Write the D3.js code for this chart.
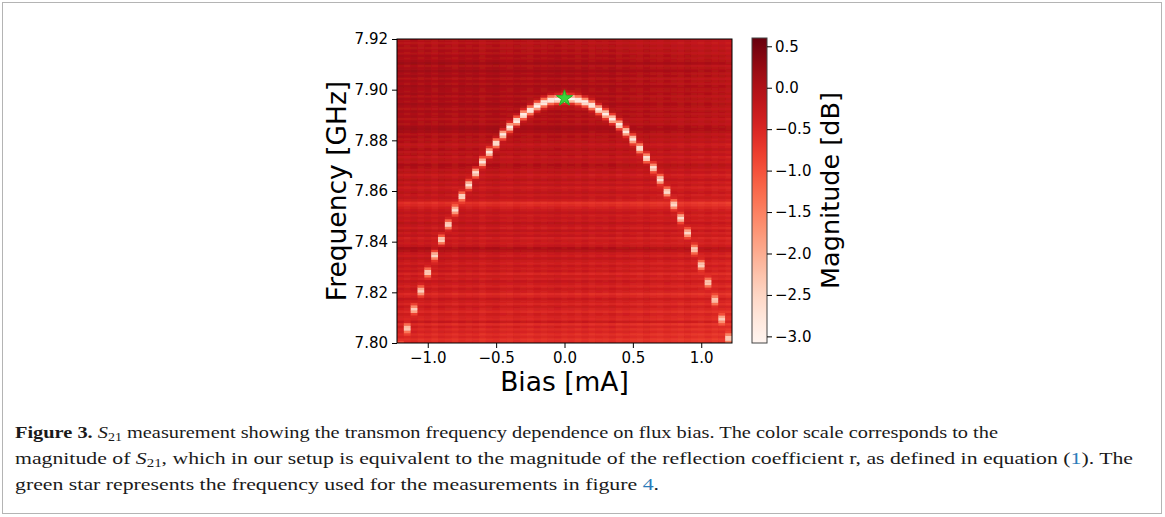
<!DOCTYPE html>
<html>
<head>
<meta charset="utf-8">
<script src="https://cdn.jsdelivr.net/npm/d3@7"></script>
<style>
  body { margin: 0; background: #fff; }
  svg { display: block; }
</style>
</head>
<body>
<svg id="fig" width="1165" height="517"></svg>
<script>
// Flux-bias sweep (mA), one column each
const biasValues = [-1.20, -1.15, -1.10, -1.05, -1.00, -0.95, -0.90, -0.85, -0.80, -0.75,
  -0.70, -0.65, -0.60, -0.55, -0.50, -0.45, -0.40, -0.35, -0.30, -0.25,
  -0.20, -0.15, -0.10, -0.05, 0.00, 0.05, 0.10, 0.15, 0.20, 0.25,
  0.30, 0.35, 0.40, 0.45, 0.50, 0.55, 0.60, 0.65, 0.70, 0.75,
  0.80, 0.85, 0.90, 0.95, 1.00, 1.05, 1.10, 1.15, 1.20];

// Transmon resonance frequency (GHz) found at each bias
const resonanceFreq = [7.7985, 7.8059, 7.8134, 7.8207, 7.8280, 7.8347, 7.8409, 7.8469, 7.8526, 7.8580,
  7.8626, 7.8673, 7.8716, 7.8754, 7.8790, 7.8824, 7.8853, 7.8878, 7.8902, 7.8920,
  7.8937, 7.8950, 7.8960, 7.8963, 7.8966, 7.8965, 7.8960, 7.8952, 7.8940, 7.8923,
  7.8906, 7.8886, 7.8863, 7.8836, 7.8806, 7.8770, 7.8732, 7.8693, 7.8647, 7.8598,
  7.8548, 7.8494, 7.8436, 7.8371, 7.8309, 7.8240, 7.8171, 7.8096, 7.8020];

// |S21| (dB) at the resonance dip for each bias
const dipDepth = [-2.20, -2.40, -2.40, -2.45, -2.50, -2.50, -2.55, -2.60, -2.60, -2.65,
  -2.70, -2.70, -2.75, -2.80, -2.80, -2.85, -2.90, -2.95, -3.00, -3.00,
  -3.05, -3.05, -3.05, -3.05, -3.05, -3.05, -3.05, -3.05, -3.00, -3.00,
  -2.95, -2.90, -2.90, -2.85, -2.80, -2.80, -2.75, -2.70, -2.70, -2.65,
  -2.60, -2.60, -2.55, -2.50, -2.50, -2.45, -2.40, -2.40, -2.50];

// Off-resonance |S21| (dB) per frequency row, 7.800 GHz upward in 1 MHz steps
const freqStart = 7.800, freqStep = 0.001;
const rowLevel = [
  -0.58, -0.66, -0.50, -0.62, -0.45, -0.57, -0.40, -0.60, -0.26, -0.52,
  -0.46, -0.36, -0.55, -0.42, -0.30, -0.50, -0.38, -0.24, -0.45, -0.58,
  -0.37, -0.27, -0.46, -0.34, -0.22, -0.42, -0.31, -0.50, -0.26, -0.38,
  -0.24, -0.41, -0.30, -0.18, -0.37, -0.28, -0.06, 0.02, -0.22, -0.35,
  -0.27, -0.41, -0.20, -0.32, -0.15, -0.37, -0.25, -0.12, -0.30, -0.22,
  -0.34, -0.18, -0.28, -0.40, -0.55, -0.64, -0.33, -0.20, -0.30, -0.14,
  -0.25, -0.36, -0.16, -0.28, -0.09, -0.23, -0.33, -0.12, -0.20, -0.05,
  0.02, -0.19, -0.12, -0.26, -0.08, -0.18, -0.03, -0.15, -0.24, -0.05,
  -0.12, 0.00, -0.10, 0.06, 0.12, 0.09, -0.06, 0.00, -0.10, 0.03,
  -0.04, 0.06, -0.08, 0.02, 0.10, -0.03, 0.05, -0.07, 0.08, -0.01,
  0.03, 0.11, -0.04, 0.06, -0.08, 0.09, -0.01, 0.13, 0.04, -0.05,
  0.15, 0.05, -0.03, 0.05, -0.09, 0.01, -0.10, -0.03, -0.14, -0.06];

// Per-bias offset of the background level (dB)
const colLevel = [0.06, 0.01, 0.07, -0.01, 0.05, -0.03, 0.06, 0.02, -0.04, 0.05,
  0.00, 0.04, -0.05, 0.02, 0.05, -0.02, -0.04, 0.03, -0.01, -0.05,
  0.02, -0.03, 0.01, 0.04, -0.03, 0.01, -0.05, 0.02, -0.06, -0.01,
  -0.04, 0.02, -0.07, -0.02, -0.05, -0.09, -0.02, -0.07, -0.10, -0.04,
  -0.08, -0.12, -0.05, -0.10, -0.13, -0.07, -0.14, -0.10, -0.16];

// Operating point marked with the star
const markerBias = 0.0, markerFreq = 7.8966;

const xTicks = [-1.0, -0.5, 0.0, 0.5, 1.0];
const yTicks = [7.80, 7.82, 7.84, 7.86, 7.88, 7.90, 7.92];
const cbarTicks = [-3.0, -2.5, -2.0, -1.5, -1.0, -0.5, 0.0, 0.5];
const colorMin = -3.08, colorMax = 0.6;

const svg = d3.select("#fig");
const FONT = "'DejaVu Sans', sans-serif";

// outer figure frame
svg.append("rect").attr("x", 2.5).attr("y", 2.5).attr("width", 1159).attr("height", 511)
  .attr("fill", "#fff").attr("stroke", "#b4b4b4").attr("stroke-width", 1);

const plot = { left: 397, right: 732, top: 39, bottom: 343 };
const halfStep = (biasValues[1] - biasValues[0]) / 2;
const x = d3.scaleLinear()
  .domain([biasValues[0] - halfStep, biasValues[biasValues.length - 1] + halfStep])
  .range([plot.left, plot.right]);
const y = d3.scaleLinear().domain([7.80, 7.92]).range([plot.bottom, plot.top]);
const color = d3.scaleSequential(d3.interpolateReds).domain([colorMin, colorMax]);

// build the measured magnitude grid; each dip spreads over neighbouring rows
const dipWidthRows = 1.15;
const cells = [];
biasValues.forEach((b, c) => {
  const pos = (resonanceFreq[c] - freqStart) / freqStep;
  rowLevel.forEach((lvl, r) => {
    const bg = lvl + colLevel[c];
    const d = Math.abs(r + 0.5 - pos);
    const w = Math.exp(-(d * d) / (2 * dipWidthRows * dipWidthRows));
    cells.push({
      bias: b,
      f0: freqStart + r * freqStep,
      v: bg + w * (dipDepth[c] - bg)
    });
  });
});

const defs = svg.append("defs");
defs.append("clipPath").attr("id", "plotClip")
  .append("rect").attr("x", plot.left).attr("y", plot.top)
  .attr("width", plot.right - plot.left).attr("height", plot.bottom - plot.top);
const soft = defs.append("filter").attr("id", "soft")
  .attr("x", "-5%").attr("y", "-5%").attr("width", "110%").attr("height", "110%");
soft.append("feGaussianBlur").attr("stdDeviation", "0.5 0.5");

const heatOuter = svg.append("g").attr("clip-path", "url(#plotClip)");
heatOuter.append("rect").attr("x", plot.left).attr("y", plot.top)
  .attr("width", plot.right - plot.left).attr("height", plot.bottom - plot.top)
  .attr("fill", color(-0.25));
const heat = heatOuter.append("g").attr("filter", "url(#soft)");
heat.selectAll("rect.cell").data(cells).join("rect")
  .attr("class", "cell")
  .attr("x", d => x(d.bias - halfStep))
  .attr("width", d => x(d.bias + halfStep) - x(d.bias - halfStep) + 0.4)
  .attr("y", d => y(d.f0 + freqStep))
  .attr("height", d => y(d.f0) - y(d.f0 + freqStep) + 0.4)
  .attr("fill", d => color(d.v));

// operating-point star
svg.append("path")
  .attr("d", d3.symbol().type(d3.symbolStar).size(80)())
  .attr("transform", `translate(${x(markerBias)},${y(markerFreq)})`)
  .attr("fill", "#3ad43a").attr("stroke", "#22b022").attr("stroke-width", 1);

// frame
svg.append("rect").attr("x", plot.left).attr("y", plot.top)
  .attr("width", plot.right - plot.left).attr("height", plot.bottom - plot.top)
  .attr("fill", "none").attr("stroke", "#000").attr("stroke-width", 1);

// axes
const xAxis = svg.append("g").attr("transform", `translate(0,${plot.bottom})`)
  .call(d3.axisBottom(x).tickValues(xTicks).tickFormat(d3.format(".1f")).tickSize(5).tickPadding(4));
const yAxis = svg.append("g").attr("transform", `translate(${plot.left},0)`)
  .call(d3.axisLeft(y).tickValues(yTicks).tickFormat(d3.format(".2f")).tickSize(5).tickPadding(4));
[xAxis, yAxis].forEach(a => {
  a.select(".domain").remove();
  a.selectAll("text").attr("font-family", FONT).attr("font-size", 15).attr("fill", "#000");
  a.selectAll("line").attr("stroke", "#000");
});

svg.append("text").attr("x", (plot.left + plot.right) / 2).attr("y", 391)
  .attr("text-anchor", "middle").attr("font-family", FONT).attr("font-size", 26.5)
  .text("Bias [mA]");
svg.append("text").attr("transform", `translate(346,${(plot.top + plot.bottom) / 2}) rotate(-90)`)
  .attr("text-anchor", "middle").attr("font-family", FONT).attr("font-size", 26.5)
  .text("Frequency [GHz]");

// colour bar
const cb = { left: 752, right: 767, top: 38, bottom: 343 };
const cy = d3.scaleLinear().domain([colorMin, colorMax]).range([cb.bottom, cb.top]);
const grad = defs.append("linearGradient").attr("id", "cbGrad")
  .attr("x1", 0).attr("y1", 1).attr("x2", 0).attr("y2", 0);
d3.range(0, 1.0001, 0.02).forEach(t => {
  grad.append("stop").attr("offset", t).attr("stop-color", d3.interpolateReds(t));
});
svg.append("rect").attr("x", cb.left).attr("y", cb.top)
  .attr("width", cb.right - cb.left).attr("height", cb.bottom - cb.top)
  .attr("fill", "url(#cbGrad)").attr("stroke", "#444").attr("stroke-width", 1);
const cAxis = svg.append("g").attr("transform", `translate(${cb.right},0)`)
  .call(d3.axisRight(cy).tickValues(cbarTicks).tickFormat(d3.format(".1f")).tickSize(5).tickPadding(3));
cAxis.select(".domain").remove();
cAxis.selectAll("text").attr("font-family", FONT).attr("font-size", 15).attr("fill", "#000");
cAxis.selectAll("line").attr("stroke", "#000");
svg.append("text").attr("transform", `translate(839,${(cb.top + cb.bottom) / 2}) rotate(-90)`)
  .attr("text-anchor", "middle").attr("font-family", FONT).attr("font-size", 25.5)
  .text("Magnitude [dB]");

// caption
const CAP = "'Liberation Serif', serif";
const LINK = "#2b7bb9";
function captionLine(yPos, len, parts) {
  const t = svg.append("text").attr("x", 15).attr("y", yPos)
    .attr("font-family", CAP).attr("font-size", 17.5).attr("fill", "#1a1a1a")
    .attr("textLength", len).attr("lengthAdjust", "spacingAndGlyphs");
  parts.forEach(p => {
    const s = t.append("tspan").text(p.t);
    if (p.bold) s.attr("font-weight", "bold");
    if (p.italic) s.attr("font-style", "italic");
    if (p.sub) s.attr("font-size", 12).attr("dy", 3);
    if (p.back) s.attr("dy", -3);
    if (p.link) s.attr("fill", LINK);
  });
}
captionLine(438, 983, [
  { t: "Figure 3.", bold: true }, { t: " " }, { t: "S", italic: true }, { t: "21", sub: true },
  { t: " measurement showing the transmon frequency dependence on flux bias. The color scale corresponds to the", back: true }
]);
captionLine(464, 1118, [
  { t: "magnitude of " }, { t: "S", italic: true }, { t: "21", sub: true },
  { t: ", which in our setup is equivalent to the magnitude of the reflection coefficient r, as defined in equation (", back: true },
  { t: "1", link: true }, { t: "). The" }
]);
captionLine(490, 644, [
  { t: "green star represents the frequency used for the measurements in figure " },
  { t: "4", link: true }, { t: "." }
]);
</script>
</body>
</html>
